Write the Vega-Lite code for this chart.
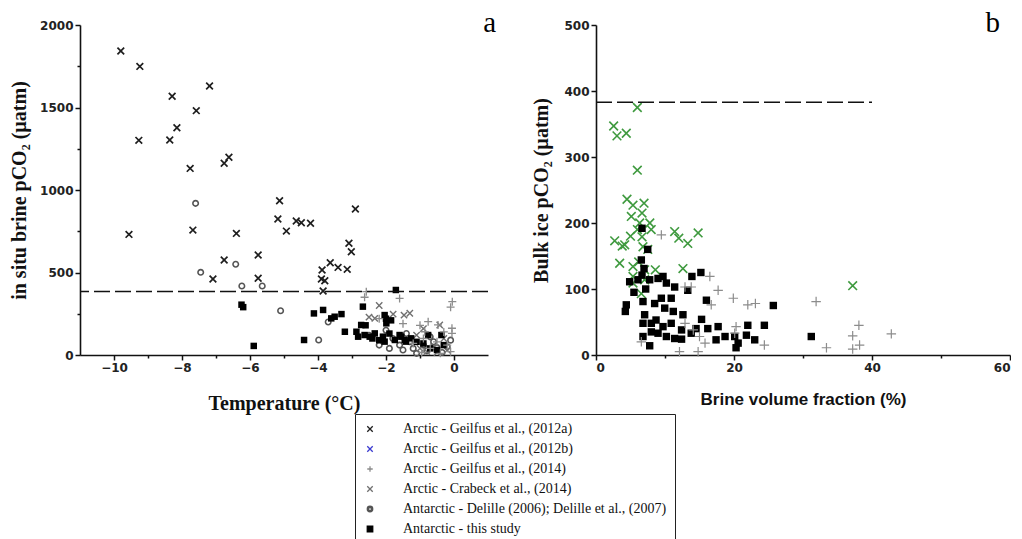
{
  "$schema": "https://vega.github.io/schema/vega-lite/v6.json",
  "background": "white",
  "padding": {"left": 9, "top": 9, "right": 0, "bottom": 0},
  "spacing": 35,
  "config": {
    "view": {"stroke": null},
    "axis": {
      "grid": false,
      "domainColor": "#111",
      "domainWidth": 1.6,
      "tickColor": "#111",
      "tickWidth": 1.5,
      "labelFont": "DejaVu Sans",
      "labelFontWeight": "bold",
      "labelFontSize": 12,
      "labelColor": "#222",
      "labelPadding": 2,
      "titleColor": "#111",
      "titleFontWeight": "bold",
      "format": "d"
    },
    "legend": {
      "orient": "none", "legendX": 275, "legendY": 389, "title": null, "direction": "vertical",
      "labelFont": "Liberation Serif", "labelFontSize": 14, "labelColor": "#111", "labelLimit": 600, "labelOffset": 26,
      "symbolSize": 30, "symbolStrokeWidth": 1.3, "strokeColor": "#222", "padding": 8, "rowPadding": 6
    }
  },
  "datasets": {
    "pa": [
      {"s": "G12a", "x": -9.8, "y": 1842}, {"s": "G12a", "x": -9.24, "y": 1749}, {"s": "G12a", "x": -8.29, "y": 1568},
      {"s": "G12a", "x": -7.19, "y": 1630}, {"s": "G12a", "x": -7.58, "y": 1481}, {"s": "G12a", "x": -8.15, "y": 1377},
      {"s": "G12a", "x": -9.27, "y": 1301}, {"s": "G12a", "x": -8.36, "y": 1303}, {"s": "G12a", "x": -7.76, "y": 1131},
      {"s": "G12a", "x": -6.76, "y": 1162}, {"s": "G12a", "x": -6.62, "y": 1198}, {"s": "G12a", "x": -9.56, "y": 731},
      {"s": "G12a", "x": -7.68, "y": 757}, {"s": "G12a", "x": -6.4, "y": 737}, {"s": "G12a", "x": -6.76, "y": 576},
      {"s": "G12a", "x": -7.09, "y": 461}, {"s": "G12a", "x": -5.76, "y": 606}, {"s": "G12a", "x": -5.76, "y": 465},
      {"s": "G12a", "x": -5.13, "y": 935}, {"s": "G12a", "x": -5.18, "y": 824}, {"s": "G12a", "x": -4.93, "y": 751},
      {"s": "G12a", "x": -4.64, "y": 812}, {"s": "G12a", "x": -4.49, "y": 802}, {"s": "G12a", "x": -4.22, "y": 798},
      {"s": "G12a", "x": -2.9, "y": 885}, {"s": "G12a", "x": -3.09, "y": 677}, {"s": "G12a", "x": -3.02, "y": 626},
      {"s": "G12a", "x": -3.14, "y": 519}, {"s": "G12a", "x": -3.64, "y": 559}, {"s": "G12a", "x": -3.41, "y": 531},
      {"s": "G12a", "x": -3.88, "y": 515}, {"s": "G12a", "x": -3.9, "y": 461}, {"s": "G12a", "x": -3.8, "y": 450},
      {"s": "G12a", "x": -3.85, "y": 388},
      {"s": "C14", "x": -2.33, "y": 222}, {"s": "C14", "x": -1.79, "y": 248}, {"s": "C14", "x": -1.3, "y": 253},
      {"s": "C14", "x": -1.47, "y": 242}, {"s": "C14", "x": -0.42, "y": 182}, {"s": "C14", "x": -0.9, "y": 160},
      {"s": "C14", "x": -0.3, "y": 100}, {"s": "C14", "x": -0.6, "y": 50}, {"s": "C14", "x": -1.0, "y": 40},
      {"s": "C14", "x": -0.2, "y": 30}, {"s": "C14", "x": -0.8, "y": 20}, {"s": "C14", "x": -2.5, "y": 230},
      {"s": "C14", "x": -2.2, "y": 300}, {"s": "C14", "x": -1.1, "y": 120}, {"s": "C14", "x": -0.5, "y": 15},
      {"s": "G14", "x": -2.58, "y": 384}, {"s": "G14", "x": -2.63, "y": 350}, {"s": "G14", "x": -1.6, "y": 343},
      {"s": "G14", "x": -0.05, "y": 323}, {"s": "G14", "x": -0.1, "y": 290}, {"s": "G14", "x": -0.76, "y": 202},
      {"s": "G14", "x": -0.47, "y": 182}, {"s": "G14", "x": -0.86, "y": 141}, {"s": "G14", "x": -0.06, "y": 162},
      {"s": "G14", "x": -0.06, "y": 131}, {"s": "G14", "x": -1.0, "y": 180}, {"s": "G14", "x": -0.9, "y": 100},
      {"s": "G14", "x": -0.5, "y": 80}, {"s": "G14", "x": -0.2, "y": 60}, {"s": "G14", "x": -0.7, "y": 40},
      {"s": "G14", "x": -1.2, "y": 70}, {"s": "G14", "x": -0.1, "y": 20}, {"s": "G14", "x": -0.4, "y": 10},
      {"s": "G14", "x": -0.95, "y": 15}, {"s": "G14", "x": -2.2, "y": 220}, {"s": "G14", "x": -0.3, "y": 140},
      {"s": "G14", "x": -1.5, "y": 190},
      {"s": "D", "x": -7.6, "y": 919}, {"s": "D", "x": -7.45, "y": 501}, {"s": "D", "x": -6.42, "y": 550},
      {"s": "D", "x": -6.24, "y": 418}, {"s": "D", "x": -5.64, "y": 418}, {"s": "D", "x": -5.1, "y": 268},
      {"s": "D", "x": -3.98, "y": 91}, {"s": "D", "x": -3.7, "y": 200}, {"s": "D", "x": -2.5, "y": 120},
      {"s": "D", "x": -2.0, "y": 150}, {"s": "D", "x": -1.8, "y": 100}, {"s": "D", "x": -1.6, "y": 60},
      {"s": "D", "x": -1.5, "y": 30}, {"s": "D", "x": -1.3, "y": 80}, {"s": "D", "x": -1.2, "y": 40},
      {"s": "D", "x": -1.1, "y": 10}, {"s": "D", "x": -0.9, "y": 60}, {"s": "D", "x": -0.8, "y": 25},
      {"s": "D", "x": -0.6, "y": 80}, {"s": "D", "x": -0.5, "y": 45}, {"s": "D", "x": -0.35, "y": 15},
      {"s": "D", "x": -0.2, "y": 50}, {"s": "D", "x": -0.1, "y": 90}, {"s": "D", "x": -1.9, "y": 40},
      {"s": "D", "x": -2.2, "y": 60}, {"s": "D", "x": -1.4, "y": 130}, {"s": "D", "x": -0.7, "y": 110},
      {"s": "T", "x": -6.2, "y": 290}, {"s": "T", "x": -6.25, "y": 305}, {"s": "T", "x": -5.89, "y": 55},
      {"s": "T", "x": -4.41, "y": 91}, {"s": "T", "x": -4.12, "y": 252}, {"s": "T", "x": -3.85, "y": 273},
      {"s": "T", "x": -3.61, "y": 222}, {"s": "T", "x": -3.51, "y": 232}, {"s": "T", "x": -3.31, "y": 248},
      {"s": "T", "x": -3.21, "y": 141}, {"s": "T", "x": -2.68, "y": 293}, {"s": "T", "x": -2.87, "y": 141},
      {"s": "T", "x": -2.73, "y": 182}, {"s": "T", "x": -2.82, "y": 111}, {"s": "T", "x": -2.63, "y": 121},
      {"s": "T", "x": -2.48, "y": 111}, {"s": "T", "x": -2.33, "y": 131}, {"s": "T", "x": -2.04, "y": 242},
      {"s": "T", "x": -1.99, "y": 192}, {"s": "T", "x": -2.09, "y": 111}, {"s": "T", "x": -2.04, "y": 81},
      {"s": "T", "x": -1.71, "y": 394}, {"s": "T", "x": -1.74, "y": 91}, {"s": "T", "x": -1.55, "y": 111},
      {"s": "T", "x": -1.41, "y": 81}, {"s": "T", "x": -1.26, "y": 101}, {"s": "T", "x": -1.6, "y": 121},
      {"s": "T", "x": -1.45, "y": 91}, {"s": "T", "x": -2.2, "y": 90}, {"s": "T", "x": -2.4, "y": 100},
      {"s": "T", "x": -1.9, "y": 130}, {"s": "T", "x": -1.1, "y": 80}, {"s": "T", "x": -0.76, "y": 121},
      {"s": "T", "x": -0.9, "y": 70}, {"s": "T", "x": -0.7, "y": 40}, {"s": "T", "x": -0.5, "y": 30},
      {"s": "T", "x": -0.3, "y": 60}, {"s": "T", "x": -0.37, "y": 121}, {"s": "T", "x": -2.6, "y": 180},
      {"s": "T", "x": -2.0, "y": 220}, {"s": "T", "x": -1.85, "y": 210}
    ],
    "pb": [
      {"s": "C14", "x": 5.99, "y": 375}, {"s": "C14", "x": 2.56, "y": 347}, {"s": "C14", "x": 3.04, "y": 332},
      {"s": "C14", "x": 4.39, "y": 336}, {"s": "C14", "x": 5.99, "y": 280}, {"s": "C14", "x": 4.49, "y": 236},
      {"s": "C14", "x": 5.36, "y": 227}, {"s": "C14", "x": 6.96, "y": 230}, {"s": "C14", "x": 6.67, "y": 215},
      {"s": "C14", "x": 5.12, "y": 210}, {"s": "C14", "x": 6.33, "y": 200}, {"s": "C14", "x": 2.71, "y": 173},
      {"s": "C14", "x": 4.16, "y": 167}, {"s": "C14", "x": 6.67, "y": 179}, {"s": "C14", "x": 6.81, "y": 164},
      {"s": "C14", "x": 11.4, "y": 187}, {"s": "C14", "x": 12.0, "y": 177}, {"s": "C14", "x": 13.3, "y": 169},
      {"s": "C14", "x": 14.8, "y": 185}, {"s": "C14", "x": 3.43, "y": 139}, {"s": "C14", "x": 5.36, "y": 134},
      {"s": "C14", "x": 6.18, "y": 141}, {"s": "C14", "x": 7.05, "y": 129}, {"s": "C14", "x": 8.6, "y": 129},
      {"s": "C14", "x": 12.6, "y": 131}, {"s": "C14", "x": 5.36, "y": 109}, {"s": "C14", "x": 7.05, "y": 114},
      {"s": "C14", "x": 6.57, "y": 93}, {"s": "C14", "x": 5.36, "y": 119}, {"s": "C14", "x": 37.2, "y": 105},
      {"s": "C14", "x": 7.5, "y": 160}, {"s": "C14", "x": 6.0, "y": 190}, {"s": "C14", "x": 5.0, "y": 180},
      {"s": "C14", "x": 8.0, "y": 190}, {"s": "C14", "x": 3.8, "y": 165}, {"s": "C14", "x": 7.8, "y": 200},
      {"s": "T", "x": 6.67, "y": 192}, {"s": "T", "x": 6.57, "y": 144}, {"s": "T", "x": 6.96, "y": 131},
      {"s": "T", "x": 4.88, "y": 111}, {"s": "T", "x": 6.09, "y": 114}, {"s": "T", "x": 6.67, "y": 121},
      {"s": "T", "x": 7.78, "y": 114}, {"s": "T", "x": 8.99, "y": 116}, {"s": "T", "x": 9.71, "y": 119},
      {"s": "T", "x": 10.2, "y": 109}, {"s": "T", "x": 11.4, "y": 103}, {"s": "T", "x": 13.3, "y": 98},
      {"s": "T", "x": 13.9, "y": 119}, {"s": "T", "x": 15.2, "y": 125}, {"s": "T", "x": 4.39, "y": 76},
      {"s": "T", "x": 4.25, "y": 66}, {"s": "T", "x": 6.81, "y": 81}, {"s": "T", "x": 8.5, "y": 78},
      {"s": "T", "x": 9.47, "y": 86}, {"s": "T", "x": 10.9, "y": 86}, {"s": "T", "x": 9.96, "y": 71},
      {"s": "T", "x": 11.2, "y": 66}, {"s": "T", "x": 12.6, "y": 61}, {"s": "T", "x": 7.05, "y": 61},
      {"s": "T", "x": 6.81, "y": 48}, {"s": "T", "x": 8.02, "y": 48}, {"s": "T", "x": 8.7, "y": 53},
      {"s": "T", "x": 9.71, "y": 43}, {"s": "T", "x": 10.9, "y": 48}, {"s": "T", "x": 12.4, "y": 38},
      {"s": "T", "x": 8.02, "y": 35}, {"s": "T", "x": 8.99, "y": 33}, {"s": "T", "x": 10.2, "y": 28},
      {"s": "T", "x": 11.4, "y": 25}, {"s": "T", "x": 12.4, "y": 24}, {"s": "T", "x": 6.81, "y": 28},
      {"s": "T", "x": 7.78, "y": 14}, {"s": "T", "x": 13.8, "y": 33}, {"s": "T", "x": 15.3, "y": 54},
      {"s": "T", "x": 16.0, "y": 83}, {"s": "T", "x": 16.2, "y": 40}, {"s": "T", "x": 17.7, "y": 43},
      {"s": "T", "x": 17.4, "y": 23}, {"s": "T", "x": 18.7, "y": 28}, {"s": "T", "x": 20.1, "y": 28},
      {"s": "T", "x": 20.6, "y": 18}, {"s": "T", "x": 20.3, "y": 11}, {"s": "T", "x": 21.8, "y": 30},
      {"s": "T", "x": 23.0, "y": 23}, {"s": "T", "x": 22.0, "y": 45}, {"s": "T", "x": 24.4, "y": 45},
      {"s": "T", "x": 25.7, "y": 75}, {"s": "T", "x": 31.2, "y": 28}, {"s": "T", "x": 7.5, "y": 160},
      {"s": "T", "x": 7.2, "y": 100}, {"s": "T", "x": 5.5, "y": 95}, {"s": "T", "x": 14.5, "y": 40},
      {"s": "G14", "x": 9.47, "y": 182}, {"s": "G14", "x": 16.5, "y": 119}, {"s": "G14", "x": 17.7, "y": 98},
      {"s": "G14", "x": 19.9, "y": 86}, {"s": "G14", "x": 22.0, "y": 76}, {"s": "G14", "x": 23.1, "y": 78},
      {"s": "G14", "x": 16.7, "y": 76}, {"s": "G14", "x": 12.9, "y": 48}, {"s": "G14", "x": 14.1, "y": 38},
      {"s": "G14", "x": 15.0, "y": 28}, {"s": "G14", "x": 15.8, "y": 18}, {"s": "G14", "x": 14.8, "y": 5},
      {"s": "G14", "x": 12.1, "y": 5}, {"s": "G14", "x": 20.3, "y": 43}, {"s": "G14", "x": 20.1, "y": 33},
      {"s": "G14", "x": 24.4, "y": 15}, {"s": "G14", "x": 6.57, "y": 20}, {"s": "G14", "x": 12.9, "y": 103},
      {"s": "G14", "x": 13.8, "y": 103}, {"s": "G14", "x": 31.9, "y": 81}, {"s": "G14", "x": 38.1, "y": 45},
      {"s": "G14", "x": 37.2, "y": 29}, {"s": "G14", "x": 42.8, "y": 32}, {"s": "G14", "x": 33.4, "y": 11},
      {"s": "G14", "x": 37.2, "y": 9}, {"s": "G14", "x": 38.2, "y": 15}
    ]
  },
  "resolve": {"scale": {"color": "shared", "shape": "shared"}},
  "hconcat": [
    {
      "width": 408,
      "height": 330,
      "layer": [
        {
          "data": {"name": "pa"},
          "transform": [{"filter": "datum.s === 'G12a'"}],
          "mark": {"type": "point", "filled": false, "strokeWidth": 1.7, "size": 45, "opacity": 1},
          "encoding": {
            "x": {"field": "x", "type": "quantitative", "scale": {"domain": [-11, 1], "nice": false, "zero": false},
                  "axis": {"values": [-10, -9, -8, -7, -6, -5, -4, -3, -2, -1, 0], "labelExpr": "datum.value % 2 === 0 ? datum.label : ''",
                           "tickSize": {"condition": {"test": "datum.value % 2 !== 0", "value": 3}, "value": 5},
                           "title": "Temperature (°C)", "titleFont": "Liberation Serif", "titleFontSize": 20, "titlePadding": 20}},
            "y": {"field": "y", "type": "quantitative", "scale": {"domain": [0, 2000], "nice": false},
                  "axis": {"values": [0, 250, 500, 750, 1000, 1250, 1500, 1750, 2000], "labelExpr": "datum.value % 500 === 0 ? datum.label : ''",
                           "tickSize": {"condition": {"test": "datum.value % 500 !== 0", "value": 3}, "value": 5},
                           "title": "in situ brine pCO₂ (µatm)", "titleFont": "Liberation Serif", "titleFontSize": 20, "titlePadding": 10}},
            "shape": {"field": "s", "type": "nominal",
              "scale": {"domain": ["G12a", "G12b", "G14", "C14", "D", "T"],
                        "range": ["M-1,-1L1,1M-1,1L1,-1", "M-1,-1L1,1M-1,1L1,-1", "M-1,0L1,0M0,-1L0,1", "M-1,-1L1,1M-1,1L1,-1",
                                  "M1,0A1,1 0 1,0 -1,0A1,1 0 1,0 1,0ZM0.55,0A0.55,0.55 0 1,1 -0.55,0A0.55,0.55 0 1,1 0.55,0Z", "square"]},
              "legend": {"labelExpr": "{'G12a': 'Arctic - Geilfus et al., (2012a)', 'G12b': 'Arctic - Geilfus et al., (2012b)', 'G14': 'Arctic - Geilfus et al., (2014)', 'C14': 'Arctic - Crabeck et al., (2014)', 'D': 'Antarctic - Delille (2006); Delille et al., (2007)', 'T': 'Antarctic - this study'}[datum.label]"}},
            "color": {"field": "s", "type": "nominal",
              "scale": {"domain": ["G12a", "G12b", "G14", "C14", "D", "T"],
                        "range": ["#1e1e1e", "#3b3bd0", "#8c8c8c", "#707070", "#555555", "#000000"]},
              "legend": {"labelExpr": "{'G12a': 'Arctic - Geilfus et al., (2012a)', 'G12b': 'Arctic - Geilfus et al., (2012b)', 'G14': 'Arctic - Geilfus et al., (2014)', 'C14': 'Arctic - Crabeck et al., (2014)', 'D': 'Antarctic - Delille (2006); Delille et al., (2007)', 'T': 'Antarctic - this study'}[datum.label]"}}
          }
        },
        {
          "data": {"name": "pa"},
          "transform": [{"filter": "datum.s === 'D'"}],
          "mark": {"type": "point", "filled": true, "size": 50, "opacity": 1},
          "encoding": {
            "x": {"field": "x", "type": "quantitative"},
            "y": {"field": "y", "type": "quantitative"},
            "shape": {"field": "s", "type": "nominal", "legend": null},
            "color": {"field": "s", "type": "nominal", "legend": null}
          }
        },
        {
          "data": {"name": "pa"},
          "transform": [{"filter": "datum.s === 'C14'"}],
          "mark": {"type": "point", "filled": false, "strokeWidth": 1.4, "size": 40, "opacity": 1},
          "encoding": {
            "x": {"field": "x", "type": "quantitative"},
            "y": {"field": "y", "type": "quantitative"},
            "shape": {"field": "s", "type": "nominal", "legend": null},
            "color": {"field": "s", "type": "nominal", "legend": null}
          }
        },
        {
          "data": {"name": "pa"},
          "transform": [{"filter": "datum.s === 'T'"}],
          "mark": {"type": "point", "filled": true, "size": 42, "opacity": 1},
          "encoding": {
            "x": {"field": "x", "type": "quantitative"},
            "y": {"field": "y", "type": "quantitative"},
            "shape": {"field": "s", "type": "nominal", "legend": null},
            "color": {"field": "s", "type": "nominal", "legend": null}
          }
        },
        {
          "data": {"name": "pa"},
          "transform": [{"filter": "datum.s === 'G14'"}],
          "mark": {"type": "point", "filled": false, "strokeWidth": 1.3, "size": 64, "opacity": 1},
          "encoding": {
            "x": {"field": "x", "type": "quantitative"},
            "y": {"field": "y", "type": "quantitative"},
            "shape": {"field": "s", "type": "nominal", "legend": null},
            "color": {"field": "s", "type": "nominal", "legend": null}
          }
        },
        {
          "data": {"values": [{}]},
          "mark": {"type": "rule", "strokeDash": [16, 5], "strokeWidth": 1.6, "color": "#111"},
          "encoding": {"y": {"datum": 385, "type": "quantitative"}}
        },
        {
          "data": {"values": [{}]},
          "mark": {"type": "text", "text": "a", "font": "Liberation Serif", "fontSize": 29, "color": "#000", "align": "right", "baseline": "alphabetic", "dx": 8, "dy": 7},
          "encoding": {"x": {"datum": 1, "type": "quantitative"}, "y": {"datum": 2000, "type": "quantitative"}}
        }
      ]
    },
    {
      "width": 414,
      "height": 330,
      "layer": [
        {
          "data": {"name": "pb"},
          "transform": [{"filter": "datum.s === 'C14'"}],
          "mark": {"type": "point", "filled": false, "strokeWidth": 1.6, "size": 75, "opacity": 1},
          "encoding": {
            "x": {"field": "x", "type": "quantitative", "scale": {"domain": [0, 60], "nice": false},
                  "axis": {"values": [0, 10, 20, 30, 40, 50, 60], "labelExpr": "datum.value % 20 === 0 ? datum.label : ''",
                           "tickSize": {"condition": {"test": "datum.value % 20 !== 0", "value": 3}, "value": 5},
                           "title": "Brine volume fraction (%)", "titleFont": "Liberation Sans", "titleFontSize": 17, "titlePadding": 18}},
            "y": {"field": "y", "type": "quantitative", "scale": {"domain": [0, 500], "nice": false},
                  "axis": {"values": [0, 50, 100, 150, 200, 250, 300, 350, 400, 450, 500], "labelExpr": "datum.value % 100 === 0 ? datum.label : ''",
                           "tickSize": {"condition": {"test": "datum.value % 100 !== 0", "value": 3}, "value": 5},
                           "title": "Bulk ice pCO₂ (µatm)", "titleFont": "Liberation Serif", "titleFontSize": 20, "titlePadding": 12}},
            "shape": {"field": "s", "type": "nominal", "legend": null},
            "color": {"condition": {"test": "datum.s === 'C14'", "value": "#3f9a3f"}, "field": "s", "type": "nominal", "legend": null}
          }
        },
        {
          "data": {"name": "pb"},
          "transform": [{"filter": "datum.s === 'T'"}],
          "mark": {"type": "point", "filled": true, "size": 55, "opacity": 1},
          "encoding": {
            "x": {"field": "x", "type": "quantitative"},
            "y": {"field": "y", "type": "quantitative"},
            "shape": {"field": "s", "type": "nominal", "legend": null},
            "color": {"field": "s", "type": "nominal", "legend": null}
          }
        },
        {
          "data": {"name": "pb"},
          "transform": [{"filter": "datum.s === 'G14'"}],
          "mark": {"type": "point", "filled": false, "strokeWidth": 1.2, "size": 90, "opacity": 1},
          "encoding": {
            "x": {"field": "x", "type": "quantitative"},
            "y": {"field": "y", "type": "quantitative"},
            "shape": {"field": "s", "type": "nominal", "legend": null},
            "color": {"field": "s", "type": "nominal", "legend": null}
          }
        },
        {
          "data": {"values": [{}]},
          "mark": {"type": "rule", "strokeDash": [16, 5], "strokeWidth": 1.6, "color": "#111"},
          "encoding": {"y": {"datum": 383, "type": "quantitative"}, "x": {"datum": 0, "type": "quantitative"}, "x2": {"datum": 40}}
        },
        {
          "data": {"values": [{}]},
          "mark": {"type": "text", "text": "b", "font": "Liberation Serif", "fontSize": 29, "color": "#000", "align": "right", "baseline": "alphabetic", "dx": -10, "dy": 7},
          "encoding": {"x": {"datum": 60, "type": "quantitative"}, "y": {"datum": 500, "type": "quantitative"}}
        }
      ]
    }
  ]
}
